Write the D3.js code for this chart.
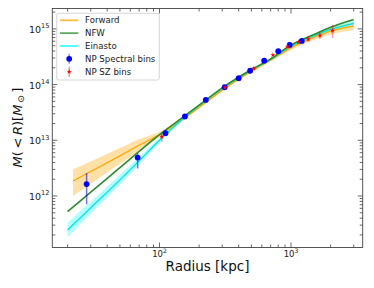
<!DOCTYPE html>
<html>
<head>
<meta charset="utf-8">
<script src="https://cdn.jsdelivr.net/npm/d3@7"></script>
<style>
  html, body { margin: 0; padding: 0; background: #fff; }
  svg { display: block; font-family: "DejaVu Sans", sans-serif; }
</style>
</head>
<body>
<svg id="chart" width="374" height="288"></svg>
<script>
// model curves (log10 of M in solar masses)
const radiusGrid = [20, 30, 50, 70, 100, 150, 200, 300, 500, 700, 1000, 1500, 2000, 3000];
const nfwLogM = [11.72, 12.07, 12.51, 12.80, 13.10, 13.41, 13.63, 13.94, 14.27, 14.46, 14.71, 14.90, 15.03, 15.17];
const einLogM = [11.39, 11.79, 12.29, 12.63, 13.00, 13.38, 13.62, 13.93, 14.26, 14.45, 14.69, 14.88, 14.99, 15.10];
const einLow = [11.26, 11.68, 12.20, 12.56, 12.95, 13.35, 13.60, 13.91, 14.24, 14.43, 14.66, 14.84, 14.94, 15.04];
const einHigh = [11.52, 11.90, 12.38, 12.70, 13.05, 13.41, 13.64, 13.95, 14.28, 14.47, 14.72, 14.92, 15.04, 15.15];

const fwdRadius = [22, 30, 50, 70, 100, 150, 200, 300, 500, 700, 1000, 1500, 2000, 3000];
const fwdLogM = [12.27, 12.44, 12.72, 12.91, 13.10, 13.38, 13.59, 13.90, 14.24, 14.44, 14.66, 14.85, 14.96, 15.05];
const fwdLow = [12.00, 12.22, 12.58, 12.80, 13.06, 13.35, 13.57, 13.88, 14.22, 14.41, 14.62, 14.80, 14.90, 14.98];
const fwdHigh = [12.48, 12.62, 12.86, 13.02, 13.15, 13.41, 13.61, 13.92, 14.26, 14.47, 14.70, 14.90, 15.02, 15.12];

// NP spectral bins
const specR = [27.9, 68.2, 111, 156, 225, 313, 400, 489, 625, 800, 977, 1207];
const specM = [1.64e12, 4.9e12, 1.34e13, 2.67e13, 5.3e13, 8.95e13, 1.30e14, 1.77e14, 2.69e14, 3.98e14, 5.14e14, 6.07e14];
const specLo = [7.1e11, 3.1e12, 1.25e13, 2.55e13, 5.1e13, 8.7e13, 1.27e14, 1.73e14, 2.63e14, 3.9e14, 5.04e14, 5.95e14];
const specHi = [2.6e12, 5.85e12, 1.43e13, 2.8e13, 5.5e13, 9.2e13, 1.33e14, 1.81e14, 2.75e14, 4.06e14, 5.24e14, 6.2e14];

// NP SZ bins
const szR = [104, 315, 522, 728, 940, 1140, 1352, 1660, 2070];
const szM = [1.16e13, 8.9e13, 1.95e14, 3.40e14, 4.83e14, 5.74e14, 6.53e14, 7.6e14, 9.3e14];
const szLo = [9.4e12, 8.6e13, 1.89e14, 3.30e14, 4.70e14, 5.55e14, 5.9e14, 6.6e14, 6.95e14];
const szHi = [1.31e13, 9.2e13, 2.01e14, 3.50e14, 4.96e14, 5.95e14, 7.45e14, 8.7e14, 1.17e15];

const xTicks = [100, 1000];
const yTicks = [1e12, 1e13, 1e14, 1e15];

const legendItems = [
  { label: 'Forward', kind: 'line', color: '#ffa500' },
  { label: 'NFW', kind: 'line', color: '#2e8b2e' },
  { label: 'Einasto', kind: 'line', color: '#00ffff' },
  { label: 'NP Spectral bins', kind: 'dot', color: '#0000ff' },
  { label: 'NP SZ bins', kind: 'star', color: '#ff0000' }
];

const svg = d3.select('#chart');
const box = { left: 52.3, right: 362.7, top: 8.5, bottom: 247.5 };

const x = d3.scaleLog().domain([15.3, 3510]).range([box.left, box.right]);
const y = d3.scaleLog().domain([1.19e11, 2.32e15]).range([box.bottom, box.top]);

svg.append('defs').append('clipPath').attr('id', 'plotClip')
  .append('rect').attr('x', box.left).attr('y', box.top)
  .attr('width', box.right - box.left).attr('height', box.bottom - box.top);

const plot = svg.append('g').attr('clip-path', 'url(#plotClip)');

const pow10 = v => Math.pow(10, v);
const band = (rs, lo, hi) => d3.area()
  .x((d, i) => x(rs[i]))
  .y0((d, i) => y(pow10(lo[i])))
  .y1((d, i) => y(pow10(hi[i])))
  .curve(d3.curveMonotoneX)(rs);
const line = (rs, vals) => d3.line()
  .x((d, i) => x(rs[i]))
  .y((d, i) => y(pow10(vals[i])))
  .curve(d3.curveMonotoneX)(rs);

// bands
plot.append('path').attr('d', band(fwdRadius, fwdLow, fwdHigh)).attr('fill', '#ffa500').attr('opacity', 0.35);
plot.append('path').attr('d', band(radiusGrid, einLow, einHigh)).attr('fill', '#00ffff').attr('opacity', 0.3);

// lines
plot.append('path').attr('d', line(fwdRadius, fwdLogM)).attr('fill', 'none').attr('stroke', '#ffa500').attr('stroke-width', 1.3);
plot.append('path').attr('d', line(radiusGrid, einLogM)).attr('fill', 'none').attr('stroke', '#00e5e5').attr('stroke-width', 1.3);
plot.append('path').attr('d', line(radiusGrid, nfwLogM)).attr('fill', 'none').attr('stroke', '#2e8b2e').attr('stroke-width', 1.6);

// spectral bins
specR.forEach((r, i) => {
  plot.append('line')
    .attr('x1', x(r)).attr('x2', x(r))
    .attr('y1', y(specLo[i])).attr('y2', y(specHi[i]))
    .attr('stroke', '#0000ff').attr('stroke-opacity', 0.55).attr('stroke-width', 1.5);
});
plot.selectAll('circle.spec').data(specR).join('circle')
  .attr('class', 'spec')
  .attr('cx', d => x(d))
  .attr('cy', (d, i) => y(specM[i]))
  .attr('r', 2.9)
  .attr('fill', '#0000ff');

// SZ bins
szR.forEach((r, i) => {
  plot.append('line')
    .attr('x1', x(r)).attr('x2', x(r))
    .attr('y1', y(szLo[i])).attr('y2', y(szHi[i]))
    .attr('stroke', '#ff0000').attr('stroke-opacity', 0.4).attr('stroke-width', 1.5);
});
const star = d3.symbol().type(d3.symbolStar).size(8);
plot.selectAll('path.sz').data(szR).join('path')
  .attr('class', 'sz')
  .attr('d', star)
  .attr('transform', (d, i) => `translate(${x(d)},${y(szM[i])})`)
  .attr('fill', '#ff0000');

// frame and ticks
const axisColor = '#444';
svg.append('rect')
  .attr('x', box.left).attr('y', box.top)
  .attr('width', box.right - box.left).attr('height', box.bottom - box.top)
  .attr('fill', 'none').attr('stroke', axisColor).attr('stroke-width', 0.9);

const ticksG = svg.append('g').attr('stroke', axisColor).attr('stroke-width', 0.8);
x.ticks().forEach(t => {
  const major = Math.abs(Math.log10(t) % 1) < 1e-9;
  const len = major ? 5 : 3;
  const px = x(t);
  ticksG.append('line').attr('x1', px).attr('x2', px).attr('y1', box.bottom).attr('y2', box.bottom - len);
  ticksG.append('line').attr('x1', px).attr('x2', px).attr('y1', box.top).attr('y2', box.top + len);
});
y.ticks().forEach(t => {
  const major = Math.abs(Math.log10(t) % 1) < 1e-9;
  const len = major ? 5 : 3;
  const py = y(t);
  ticksG.append('line').attr('x1', box.left).attr('x2', box.left + len).attr('y1', py).attr('y2', py);
  ticksG.append('line').attr('x1', box.right).attr('x2', box.right - len).attr('y1', py).attr('y2', py);
});

// tick labels
xTicks.forEach(t => {
  const txt = svg.append('text')
    .attr('x', x(t)).attr('y', 256.5)
    .attr('text-anchor', 'middle')
    .attr('font-size', 8.5).attr('fill', '#222');
  txt.append('tspan').text('10');
  txt.append('tspan').attr('dy', -4).attr('font-size', 6).text(Math.round(Math.log10(t)));
});
yTicks.forEach(t => {
  const txt = svg.append('text')
    .attr('x', 49.5).attr('y', y(t) + 4)
    .attr('text-anchor', 'end')
    .attr('font-size', 9.5).attr('fill', '#222');
  txt.append('tspan').text('10');
  txt.append('tspan').attr('dy', -4.5).attr('font-size', 6.6).text(Math.round(Math.log10(t)));
});

// axis titles
svg.append('text')
  .attr('x', (box.left + box.right) / 2).attr('y', 271)
  .attr('text-anchor', 'middle')
  .attr('font-size', 13.5).attr('fill', '#111')
  .text('Radius [kpc]');

const yl = svg.append('text')
  .attr('transform', 'translate(21.5,127.5) rotate(-90)')
  .attr('text-anchor', 'middle')
  .attr('font-size', 13).attr('fill', '#111');
yl.append('tspan').attr('font-style', 'italic').text('M');
yl.append('tspan').text('(\u2009<\u2009');
yl.append('tspan').attr('font-style', 'italic').text('R');
yl.append('tspan').text(')[');
yl.append('tspan').attr('font-style', 'italic').text('M');
yl.append('tspan').attr('dy', 2.5).attr('font-size', 9).text('\u2009⊙');
yl.append('tspan').attr('dy', -2.5).text('\u2009]');

// legend
const lg = svg.append('g');
lg.append('rect')
  .attr('x', 56.7).attr('y', 13.3).attr('width', 102.6).attr('height', 66.7)
  .attr('rx', 2).attr('fill', '#fff').attr('fill-opacity', 0.85)
  .attr('stroke', '#ccc').attr('stroke-width', 0.8);
legendItems.forEach((item, i) => {
  const cy = 20.3 + i * 12.85;
  if (item.kind === 'line') {
    lg.append('line').attr('x1', 60).attr('x2', 78.3).attr('y1', cy).attr('y2', cy)
      .attr('stroke', item.color).attr('stroke-width', 1.8).attr('stroke-opacity', 0.75);
  } else {
    lg.append('line').attr('x1', 69.2).attr('x2', 69.2).attr('y1', cy - 5).attr('y2', cy + 5)
      .attr('stroke', item.color).attr('stroke-opacity', 0.45).attr('stroke-width', 1.5);
    if (item.kind === 'dot') {
      lg.append('circle').attr('cx', 69.2).attr('cy', cy).attr('r', 2.9).attr('fill', item.color);
    } else {
      lg.append('path').attr('d', star).attr('transform', `translate(69.2,${cy})`).attr('fill', item.color);
    }
  }
  lg.append('text').attr('x', 85).attr('y', cy + 3.1)
    .attr('font-size', 8.6).attr('fill', '#222').text(item.label);
});
</script>
</body>
</html>
